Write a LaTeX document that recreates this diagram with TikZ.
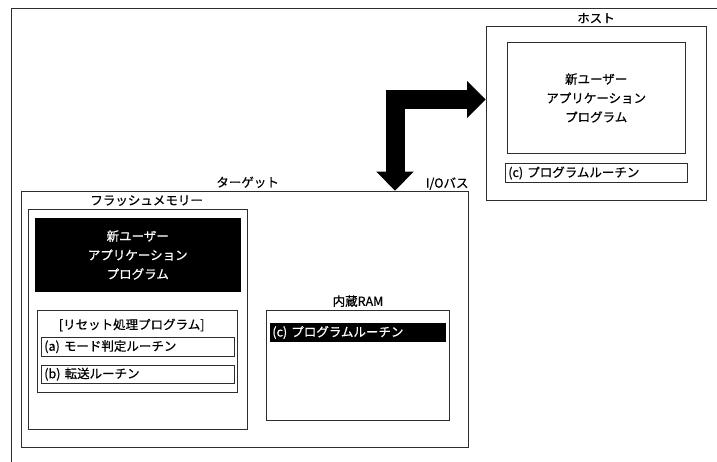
\documentclass[tikz,border=0pt]{standalone}
\usepackage{fontspec}
\setmainfont{Noto Sans CJK JP}[UprightFeatures={FakeBold=0.6}]
\usetikzlibrary{positioning,arrows.meta}
\definecolor{ink}{RGB}{45,45,45}

\begin{document}
\begin{tikzpicture}[
  x=1pt, y=-1pt,
  font=\fontsize{12.5pt}{19pt}\selectfont,
  box/.style={draw=ink, line width=0.8pt, inner sep=0pt, fill=white},
  inv/.style={fill=black, text=white, inner sep=0pt, align=center},
  rtn/.style={box, inner ysep=0pt, align=left},
  lbl/.style={inner sep=1.5pt},
  bus/.style={line width=19pt,
    {Triangle[length=19pt 0 0, width=37.6pt 0 0, line width=0pt 0]}-{Triangle[length=18.5pt 0 0, width=37pt 0 0, line width=0pt 0]}},
]
\useasboundingbox (0,0) rectangle (717,462);

% ---- outer frame ----
\draw[draw=ink, line width=0.8pt] (11,463) |- (718,8);

% ---- host ----
\node[box, minimum width=220pt, minimum height=174.4pt] (host) at (596,113.5) {};
\node[lbl, above=1pt of host] (hostL) {ホスト};
\node[box, minimum width=178.3pt, minimum height=110.6pt, align=center] (hostApp) at (596.2,98) {新ユーザー\\アプリケーション\\プログラム};
\node[rtn, minimum height=18.6pt, text width=176.4pt, inner xsep=3pt] (hostC) at (596.5,173) {(c) プログラムルーチン};

% ---- target ----
\node[box, minimum width=447.3pt, minimum height=256.3pt] (tgt) at (244.65,319.15) {};
\node[lbl, above=1pt of tgt, xshift=3pt] (tgtL) {ターゲット};
\node[lbl, anchor=south east, inner xsep=0pt] (ioL) at ([yshift=-1pt]tgt.north east) {I/Oバス};

% ---- flash memory ----
\node[box, minimum width=219.3pt, minimum height=220pt] (flash) at (137.65,319) {};
\node[lbl, above=1pt of flash, xshift=9pt] (flashL) {フラッシュメモリー};
\node[inv, minimum width=206.5pt, minimum height=74pt] (newApp) at (137.75,255) {新ユーザー\\アプリケーション\\プログラム};
\node[box, minimum width=199.6pt, minimum height=82.7pt] (reset) at (137.5,351.35) {};
\node[lbl] (resetL) at (131.7,325) {[リセット処理プログラム]};
\node[rtn, minimum height=18.7pt, text width=187pt, inner xsep=3pt] (rtnA) at (137.8,346.7) {(a) モード判定ルーチン};
\node[rtn, minimum height=18.3pt, text width=187pt, inner xsep=3pt] (rtnB) at (137.8,374.2) {(b) 転送ルーチン};

% ---- internal RAM ----
\node[box, minimum width=182.6pt, minimum height=110.3pt] (ram) at (358,365.15) {};
\node[lbl, above=1pt of ram] (ramL) {内蔵RAM};
\node[inv, align=left, minimum height=18.4pt, text width=171pt, inner xsep=2.3pt] (ramC) at (357.85,332.5) {(c) プログラムルーチン};

% ---- I/O bus ----
\coordinate (bend) at (395,99.5);
\draw[bus] (tgt.north -| bend) -- (bend) -- (bend -| host.west);

\end{tikzpicture}
\end{document}
